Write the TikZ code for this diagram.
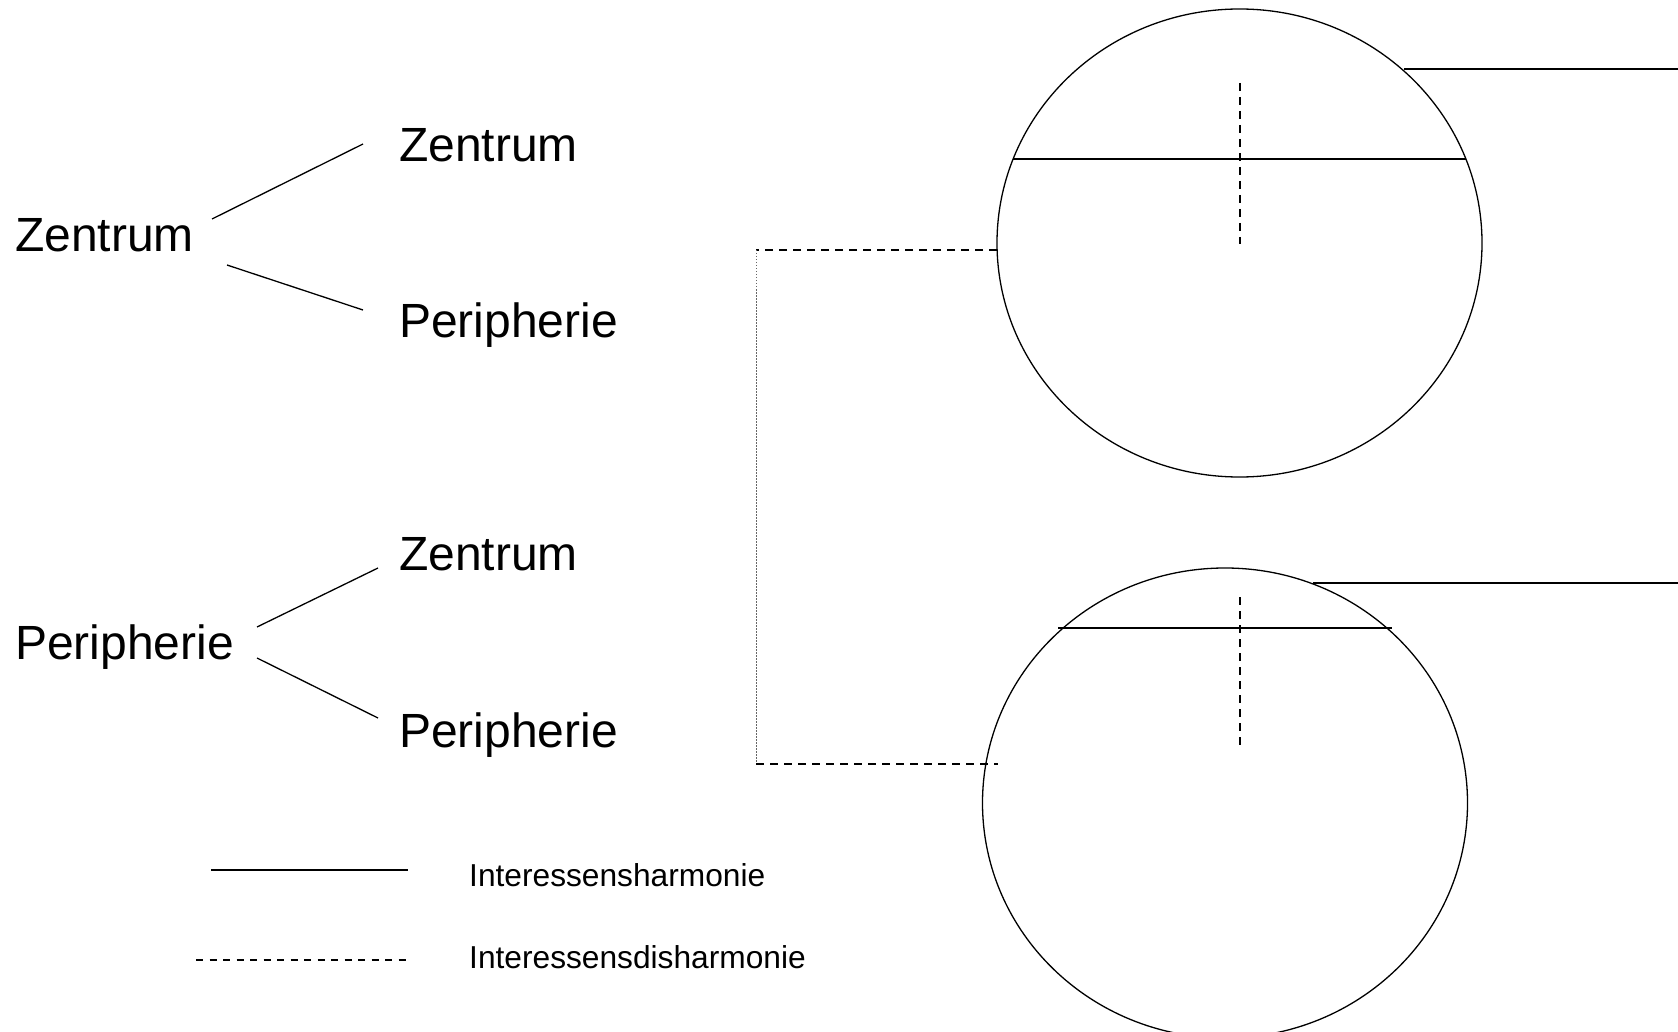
\documentclass[tikz,border=0pt]{standalone}
\usepackage{fontspec}
\setmainfont{Liberation Sans}
\usetikzlibrary{calc}

\begin{document}
\begin{tikzpicture}[x=1pt, y=-1pt,
    grande/.style={font=\fontsize{48}{58}\selectfont, inner sep=0pt, anchor=base west},
    piccolo/.style={font=\fontsize{31.7}{38}\selectfont, inner sep=0pt, anchor=base west},
    armonia/.style={line width=1.3pt},
    disarmonia/.style={line width=1.9pt, dash pattern=on 8pt off 6pt},
    puntini/.style={line width=1pt, black!60, dash pattern=on 1.5pt off 1.5pt}]
    % Parametri
    \pgfmathsetmacro{\rx}{242.5}
    \pgfmathsetmacro{\ry}{234}
    \pgfmathsetmacro{\xsx}{756}
    \useasboundingbox (0,0) rectangle (1678,1032);
    % Albero
    \node[grande] (zent) at (15,252) {Zentrum};
    \node[grande] (zz) at (399,162) {Zentrum};
    \node[grande] (zp) at (399,337) {Peripherie};
    \node[grande] (peri) at (15,659) {Peripherie};
    \node[grande] (pz) at (399,570) {Zentrum};
    \node[grande] (pp) at (399,747) {Peripherie};
    \coordinate (zenta) at (212,219);
    \coordinate (zentb) at (227,265);
    \coordinate (zza) at (363,144);
    \coordinate (zpa) at (363,310);
    \coordinate (peria) at (257,627);
    \coordinate (perib) at (257,658);
    \coordinate (pza) at (378,568);
    \coordinate (ppa) at (378,718);
    \draw[armonia] (zenta) -- (zza);
    \draw[armonia] (zentb) -- (zpa);
    \draw[armonia] (peria) -- (pza);
    \draw[armonia] (perib) -- (ppa);
    % Cerchi
    \coordinate (cuno) at (1239.5,243);
    \coordinate (cdue) at (1225,803);
    \draw[armonia] (cuno) ellipse [x radius=\rx pt, y radius=\ry pt];
    \draw[armonia] (cdue) ellipse [x radius=\rx pt, y radius=235pt];
    \draw[armonia] (1013,159) -- (1466,159);
    \draw[disarmonia] (1240,83) -- (1240,244);
    \coordinate (unoe) at (1404,69);
    \coordinate (unof) at (1678,69);
    \draw[armonia] (unoe) -- (unof);
    \draw[armonia] (1058,628) -- (1392,628);
    \draw[disarmonia] (1240,597) -- (1240,745);
    \coordinate (duee) at (1313,583);
    \coordinate (duef) at (1678,583);
    \draw[armonia] (duee) -- (duef);
    % Collegamento
    \coordinate (unow) at (997,250);
    \coordinate (duew) at (998,764);
    \coordinate (sxa) at (\xsx,250);
    \coordinate (sxb) at (\xsx,764);
    \draw[disarmonia] (unow) -- (sxa);
    \draw[puntini] (sxa) -- (sxb);
    \draw[disarmonia] (sxb) -- (duew);
    % Legenda
    \coordinate (lega) at (211,870);
    \coordinate (legb) at (408,870);
    \coordinate (legc) at (196,960);
    \coordinate (legd) at (408,960);
    \draw[armonia] (lega) -- (legb);
    \draw[line width=1.2pt, dash pattern=on 7pt off 6.5pt] (legc) -- (legd);
    \node[piccolo] (armon) at (469,886) {Interessensharmonie};
    \node[piccolo] (disarm) at (469,968) {Interessensdisharmonie};
\end{tikzpicture}
\end{document}
